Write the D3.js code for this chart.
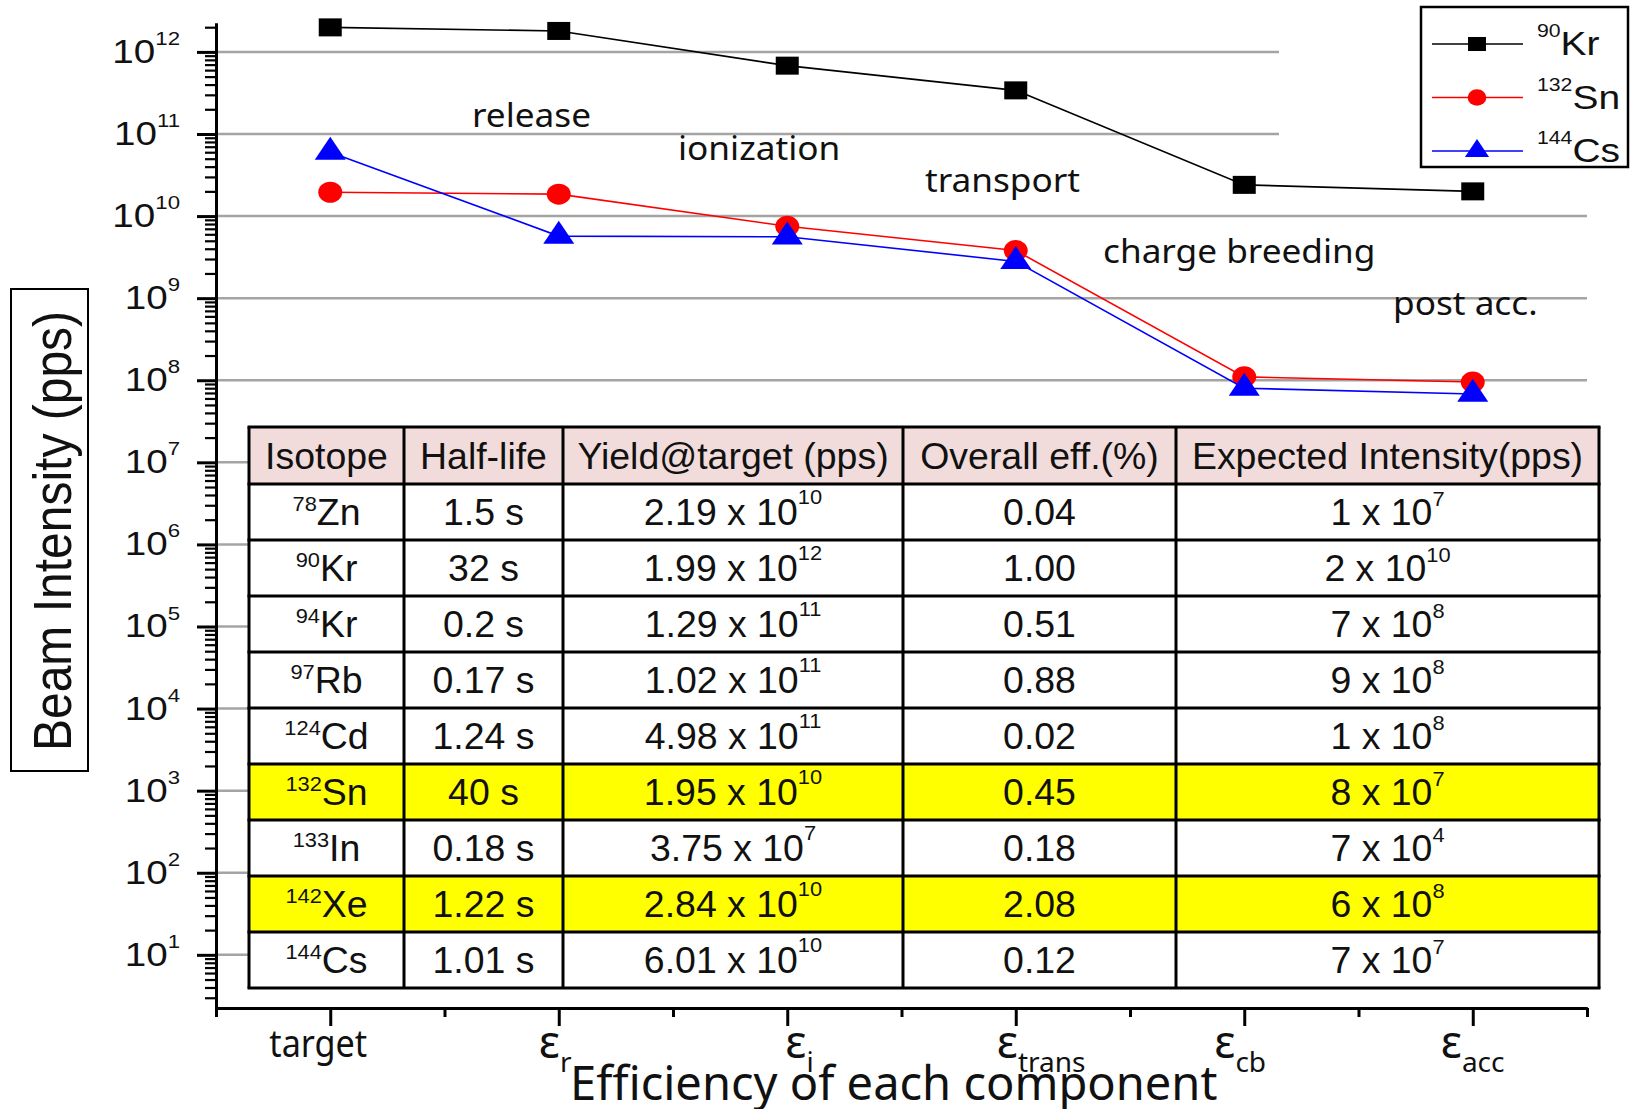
<!DOCTYPE html>
<html>
<head>
<meta charset="utf-8">
<script src="https://cdn.jsdelivr.net/npm/d3@7"></script>
<style>
  html, body { margin: 0; padding: 0; background: #fff; }
  svg { display: block; }
</style>
</head>
<body>
<svg id="chart" width="1630" height="1109"></svg>
<script>
// ---- data -------------------------------------------------------------
// beam-line stages along the x axis (ε subscripts; first one is plain text)
const stageLabels = ["target", "r", "i", "trans", "cb", "acc"];
// process names written between the stages
const stageNotes = ["release", "ionization", "transport", "charge breeding", "post acc."];

// beam intensity (pps) after each stage
const kr90  = [1.99e12, 1.8e12, 6.8e11, 3.4e11, 2.4e10, 2.0e10];
const sn132 = [1.95e10, 1.85e10, 7.5e9, 3.8e9, 1.1e8, 9.5e7];
const cs144 = [6.01e10, 5.7e9, 5.6e9, 2.8e9, 8.0e7, 6.8e7];

const seriesMass = ["90", "132", "144"];
const seriesSymbol = ["Kr", "Sn", "Cs"];

// decades labelled on the y axis
const yExponents = [1, 2, 3, 4, 5, 6, 7, 8, 9, 10, 11, 12];

// summary table
const tableHeader = ["Isotope", "Half-life", "Yield@target (pps)", "Overall eff.(%)", "Expected Intensity(pps)"];
const isoMass   = ["78", "90", "94", "97", "124", "132", "133", "142", "144"];
const isoSymbol = ["Zn", "Kr", "Kr", "Rb", "Cd", "Sn", "In", "Xe", "Cs"];
const halfLife  = ["1.5 s", "32 s", "0.2 s", "0.17 s", "1.24 s", "40 s", "0.18 s", "1.22 s", "1.01 s"];
const yieldMant = ["2.19", "1.99", "1.29", "1.02", "4.98", "1.95", "3.75", "2.84", "6.01"];
const yieldExp  = [10, 12, 11, 11, 11, 10, 7, 10, 10];
const overallEff = ["0.04", "1.00", "0.51", "0.88", "0.02", "0.45", "0.18", "2.08", "0.12"];
const expectMant = [1, 2, 7, 9, 1, 8, 7, 6, 7];
const expectExp  = [7, 10, 8, 8, 8, 7, 4, 8, 7];
const highlightRows = ["Sn", "Xe"];

// ---- layout ------------------------------------------------------------
const plot = { left: 216, right: 1587, top: 23, bottom: 1008 };
const upperGridEnd = 1279;            // first two grid lines stop short of the legend
const colEdges = [249, 404, 563, 903, 1176, 1599];
const table = { top: 427, headH: 57, rowH: 56 };
const notePos = [[472, 127], [678, 160], [925, 192], [1103, 263], [1393, 315]];
const epsShift = [-12, -20, -2, -19, -30, -32];   // label offset from its tick

const svg = d3.select("#chart");
const numFont = "'Liberation Sans', Arial, sans-serif";
const txtFont = "'Noto Sans', 'Open Sans', sans-serif";

const x = d3.scaleLinear().domain([-0.5, 5.5]).range([plot.left, plot.right]);
const y = d3.scaleLog().domain([2.25, 2.25e12]).range([plot.bottom, plot.top]);

// text inside a horizontally scaled group
function stext(parent, px, py, sx, anchor) {
  return parent.append("g")
    .attr("transform", `translate(${px},${py}) scale(${sx},1)`)
    .append("text").attr("text-anchor", anchor || "start");
}

// ---- grid -------------------------------------------------------------
const grid = svg.append("g");
yExponents.forEach(e => {
  const v = Math.pow(10, e);
  grid.append("line")
    .attr("x1", plot.left).attr("x2", e >= 11 ? upperGridEnd : plot.right)
    .attr("y1", y(v)).attr("y2", y(v))
    .attr("stroke", "#a4a4a4").attr("stroke-width", 2.5);
});

// ---- axes -------------------------------------------------------------
const minorY = [];
for (let e = 0; e <= 12; e++) for (let m = 2; m <= 9; m++) {
  const v = m * Math.pow(10, e);
  if (v >= 2.25 && v <= 2.25e12) minorY.push(v);
}
const yMinor = svg.append("g").attr("transform", `translate(${plot.left},0)`)
  .call(d3.axisLeft(y).tickValues(minorY).tickSize(11).tickSizeOuter(0).tickFormat(""));
const yMajor = svg.append("g").attr("transform", `translate(${plot.left},0)`)
  .call(d3.axisLeft(y).tickValues(yExponents.map(e => Math.pow(10, e))).tickSize(19).tickSizeOuter(0).tickFormat(""));
const xMinor = svg.append("g").attr("transform", `translate(0,${plot.bottom})`)
  .call(d3.axisBottom(x).tickValues(d3.range(-0.5, 6, 1)).tickSize(9).tickSizeOuter(0).tickFormat(""));
const xMajor = svg.append("g").attr("transform", `translate(0,${plot.bottom})`)
  .call(d3.axisBottom(x).tickValues(d3.range(0, 6)).tickSize(18).tickSizeOuter(0).tickFormat(""));
[yMinor, yMajor, xMinor, xMajor].forEach(g => {
  g.select(".domain").attr("stroke", "#000").attr("stroke-width", 3);
  g.selectAll(".tick line").attr("stroke", "#000").attr("stroke-width", 3);
});
yMinor.selectAll(".tick line").attr("stroke-width", 2.2);

// y tick labels 10^n
yExponents.forEach(e => {
  const t = stext(svg, 180, y(Math.pow(10, e)) + 11, 1.17, "end")
    .attr("font-family", numFont).attr("fill", "#111");
  t.append("tspan").attr("font-size", 33).text("10");
  t.append("tspan").attr("font-size", 19).attr("dy", -18).text(e);
});

// x tick labels
stageLabels.forEach((s, i) => {
  if (i === 0) {
    stext(svg, x(i) + epsShift[i], 1057, 0.9, "middle")
      .attr("font-family", txtFont).attr("font-size", 38).attr("fill", "#111").text(s);
  } else {
    const t = stext(svg, x(i) + epsShift[i], 1058, 1, "start")
      .attr("font-family", txtFont).attr("fill", "#111");
    t.append("tspan").attr("font-size", 45).text("ε");
    t.append("tspan").attr("font-size", 28).attr("dy", 14).text(s);
  }
});

// axis titles
stext(svg, 570, 1100, 0.98, "start")
  .attr("font-family", txtFont).attr("font-size", 48).attr("fill", "#111")
  .text("Efficiency of each component");

svg.append("rect").attr("x", 11).attr("y", 289).attr("width", 77).attr("height", 482)
  .attr("fill", "#fff").attr("stroke", "#000").attr("stroke-width", 2);
svg.append("g").attr("transform", "translate(71,531) scale(1.12,1)")
  .append("text").attr("transform", "rotate(-90)").attr("text-anchor", "middle")
  .attr("font-family", numFont).attr("font-size", 48).attr("fill", "#111")
  .text("Beam Intensity (pps)");

// stage notes
stageNotes.forEach((n, i) => {
  stext(svg, notePos[i][0], notePos[i][1], 1.1, "start")
    .attr("font-family", txtFont).attr("font-size", 32).attr("fill", "#111").text(n);
});

// ---- series -----------------------------------------------------------
const series = [
  { values: kr90,  color: "#000000", shape: "square" },
  { values: sn132, color: "#ff0000", shape: "circle" },
  { values: cs144, color: "#0000ff", shape: "triangle" }
];
const line = d3.line().x((d, i) => x(i)).y(d => y(d));

function marker(g, shape, cx, cy, color, k) {
  if (shape === "square") {
    g.append("rect").attr("x", cx - 11.5 * k).attr("y", cy - 9 * k)
      .attr("width", 23 * k).attr("height", 18 * k).attr("fill", color);
  } else if (shape === "circle") {
    g.append("ellipse").attr("cx", cx).attr("cy", cy)
      .attr("rx", 12 * k).attr("ry", 10.5 * k).attr("fill", color);
  } else {
    const w = 31 * k, h = 23 * k;
    g.append("path")
      .attr("d", `M${cx},${cy - 2 * h / 3}L${cx + w / 2},${cy + h / 3}L${cx - w / 2},${cy + h / 3}Z`)
      .attr("fill", color);
  }
}

series.forEach(s => {
  const g = svg.append("g");
  g.append("path").datum(s.values).attr("d", line)
    .attr("fill", "none").attr("stroke", s.color).attr("stroke-width", 1.6);
  s.values.forEach((v, i) => marker(g, s.shape, x(i), y(v), s.color, 1));
});

// ---- legend -----------------------------------------------------------
const lg = svg.append("g");
lg.append("rect").attr("x", 1421).attr("y", 7).attr("width", 207).attr("height", 160)
  .attr("fill", "#fff").attr("stroke", "#000").attr("stroke-width", 2.5);
series.forEach((s, i) => {
  const ly = 44 + i * 53.5;
  lg.append("line").attr("x1", 1432).attr("x2", 1523).attr("y1", ly).attr("y2", ly)
    .attr("stroke", s.color).attr("stroke-width", 1.6);
  marker(lg, s.shape, 1477, ly, s.color, 0.78);
  const t = stext(lg, 1537, ly + 11, 1.18, "start").attr("font-family", numFont).attr("fill", "#111");
  t.append("tspan").attr("font-size", 18).attr("dy", -18).text(seriesMass[i]);
  t.append("tspan").attr("font-size", 33).attr("dy", 18).text(seriesSymbol[i]);
});

// ---- table ------------------------------------------------------------
const tg = svg.append("g");
const nRows = isoSymbol.length;
const rowTop = r => r < 0 ? table.top : table.top + table.headH + r * table.rowH;
const rowH = r => r < 0 ? table.headH : table.rowH;

// cell backgrounds
d3.range(-1, nRows).forEach(r => {
  const fill = r < 0 ? "#f2dcdb" : (highlightRows.includes(isoSymbol[r]) ? "#ffff00" : "#ffffff");
  tg.append("rect").attr("x", colEdges[0]).attr("y", rowTop(r))
    .attr("width", colEdges[colEdges.length - 1] - colEdges[0]).attr("height", rowH(r))
    .attr("fill", fill);
});

// cell text
function cell(col, r) {
  const cx = (colEdges[col] + colEdges[col + 1]) / 2;
  const cy = rowTop(r) + rowH(r) / 2 + 13;
  return stext(tg, cx, cy, 1.04, "middle").attr("font-family", numFont)
    .attr("font-size", 36).attr("fill", "#111");
}
tableHeader.forEach((h, c) => cell(c, -1).text(h));
d3.range(nRows).forEach(r => {
  let t = cell(0, r);
  t.append("tspan").attr("font-size", 21).attr("dy", -14).text(isoMass[r]);
  t.append("tspan").attr("dy", 14).text(isoSymbol[r]);

  cell(1, r).text(halfLife[r]);

  t = cell(2, r);
  t.append("tspan").text(yieldMant[r] + " x 10");
  t.append("tspan").attr("font-size", 21).attr("dy", -21).text(yieldExp[r]);

  cell(3, r).text(overallEff[r]);

  t = cell(4, r);
  t.append("tspan").text(expectMant[r] + " x 10");
  t.append("tspan").attr("font-size", 21).attr("dy", -19).text(expectExp[r]);
});

// grid lines of the table
const tBottom = rowTop(nRows);
colEdges.forEach(cx => {
  tg.append("line").attr("x1", cx).attr("x2", cx).attr("y1", table.top).attr("y2", tBottom)
    .attr("stroke", "#000").attr("stroke-width", 3);
});
d3.range(-1, nRows + 1).forEach(r => {
  const yy = r < 0 ? table.top : rowTop(r);
  tg.append("line").attr("x1", colEdges[0] - 1.5).attr("x2", colEdges[colEdges.length - 1] + 1.5)
    .attr("y1", yy).attr("y2", yy).attr("stroke", "#000").attr("stroke-width", 3);
});
</script>
</body>
</html>
